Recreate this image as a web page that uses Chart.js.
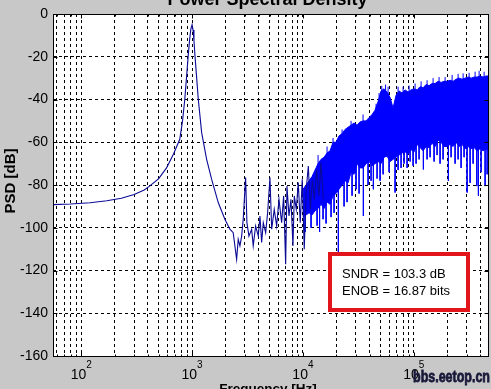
<!DOCTYPE html>
<html><head><meta charset="utf-8">
<script src="https://cdn.jsdelivr.net/npm/chart.js@4.4.0/dist/chart.umd.min.js"></script>
<style>html,body{margin:0;padding:0;background:#c8c8c8;overflow:hidden}canvas{display:block}</style>
</head><body>
<canvas id="c" width="491" height="389"></canvas>
<script>
// ---- data ----
// main trace: resonance peak and the sparse noise floor (Hz, dB)
const curveFreq = [55.6, 80, 120, 170, 230, 300, 370, 416, 500, 588,
  680, 774, 820, 859, 890, 922, 950, 975, 1000, 1020,
  1040, 1062, 1100, 1138, 1220, 1353, 1500, 1722, 1977, 2193,
  2350, 2523, 2608, 2702, 2800, 2893, 3041, 3124, 3258, 3445,
  3562, 3745, 3955, 4097, 4243, 4388, 4612, 4806, 5043, 5225,
  5512, 5796, 6079, 6430, 6700, 6985, 7180, 7485, 7800, 8130,
  8360, 8710, 9080, 9460, 9860, 10280, 10720, 11190, 11660, 12160,
  12680, 13310, 13960, 14560, 15280];
const curvePSD = [-89.2, -88.9, -88.3, -87.4, -86.2, -84.4, -82.3, -80.4, -77, -72,
  -65.5, -58.6, -50, -40, -30, -19.6, -12, -7, -5, -7.5,
  -12.5, -19.6, -30, -40, -55.5, -68, -77.3, -88.2, -96, -100.7,
  -102.3, -114.8, -105.4, -108.5, -103.9, -96, -76.5, -97.6, -103.9, -100.7,
  -108.5, -99.2, -103.9, -94.5, -106.9, -97.6, -102.3, -92.9, -76.5, -100.7,
  -91.4, -99.2, -86.7, -97.6, -85.1, -117.1, -80.5, -94.5, -86.7, -108.5,
  -85.1, -91.4, -78.9, -97.6, -77.3, -110.1, -82, -71.1, -91.4, -77.3,
  -86.7, -72.7, -85.1, -69.5, -86.7];

// dense noise band: upper and lower edge of the solid part
const bandFreq = [10030, 10675, 11363, 12093, 12871, 13700, 14580, 15518, 16512, 17575,
  18705, 19910, 21191, 22554, 24004, 25547, 27190, 28939, 30799, 32780,
  34888, 37130, 39519, 42061, 44764, 47643, 50708, 53966, 57440, 61131,
  65064, 69249, 73699, 78440, 83488, 88853, 94570, 100721, 107201, 114096,
  121428, 129240, 137558, 146401, 155822, 165849, 176509, 187868, 199941, 212803,
  226501, 241057, 256565, 273079, 290630, 309335, 329208, 350393, 372942, 396899,
  422450, 449644, 467700];
const bandHigh = [-82, -80, -78, -76, -73, -70, -68, -67, -65, -64,
  -60, -60, -57, -56, -54, -53, -52, -51, -52, -50.5,
  -50, -50, -48.5, -47, -45, -41, -36, -35, -36.5, -39,
  -44, -38, -36, -37, -35.5, -36.5, -35.5, -35, -35.5, -34,
  -34.5, -33, -33.5, -32.5, -32.5, -31.5, -32, -31.5, -31.5, -31,
  -31.5, -30.5, -30, -30.5, -30, -29.5, -30, -29.5, -29.5, -29,
  -29.5, -29, -29];
const bandLow = [-95, -94, -93, -94, -92, -91, -89, -91, -88, -89,
  -85, -84, -82, -80, -78, -79, -74, -75, -70, -72,
  -72, -70, -69, -71, -70, -69, -70, -67, -66.5, -69,
  -68, -67, -66, -65, -64.5, -65.5, -63.5, -64.5, -61, -62.5,
  -64, -62, -62.5, -60.5, -62, -59, -60, -62, -62, -61,
  -62, -60, -62, -61, -63, -62, -63, -62.5, -64, -63,
  -64, -63, -64];

// thin spikes leaving the band downwards (Hz, start dB, end dB)
const downSpikeFreq = [10457, 11846, 13421, 14137, 15196, 16180, 17947, 19103, 20889, 23524,
  25030, 27770, 30170, 32110, 35120, 38730, 41210, 43230, 46690, 49690,
  52880, 59920, 67870, 72230, 76880, 81830, 87080, 92690, 98650, 104990,
  111740, 122190, 131950, 140400, 152580, 162380, 172830, 184000, 205400, 217300,
  236100, 251300, 267500, 284700, 303000, 322500, 343200, 370700, 383200, 405300,
  440500, 459200];
const downSpikeFrom = [-92, -92, -88, -86, -85, -84, -80, -78, -75, -72,
  -70, -68, -66, -66, -65, -64, -64, -64, -62, -62,
  -60, -60, -60, -58, -58, -58, -58, -56, -56, -55,
  -54, -54, -54, -52, -52, -52, -52, -52, -52, -52,
  -52, -52, -52, -52, -52, -52, -52, -52, -52, -52,
  -52, -52];
const downSpikeTo = [-102, -100, -99, -102, -96, -98, -95, -93, -113, -90,
  -88, -85, -82, -84, -94.5, -80, -78, -82, -77, -78,
  -75, -74, -83.5, -73, -72, -70, -72, -69, -71, -70,
  -68, -72.7, -68, -67, -69, -66, -70, -68, -78.1, -67,
  -70, -68, -72, -67, -83.5, -79, -70, -80.5, -85, -74,
  -80.5, -75];
// thin spikes leaving the band upwards
const upSpikeFreq = [13700, 16512, 18705, 22554, 27190, 34888, 45730, 48660, 51470, 55700,
  58680, 72230, 80130, 90780, 102830, 116510, 131950, 149460, 169290, 191800,
  221900, 251300, 278900, 315900, 357900, 388900, 431400];
const upSpikeFrom = [-75, -70, -66, -62, -58, -56, -50, -48, -45, -45,
  -45, -45, -45, -45, -45, -42, -42, -42, -40, -40,
  -40, -40, -40, -40, -40, -40, -40];
const upSpikeTo = [-66, -62, -58, -54, -50, -47, -42, -37, -33.6, -33,
  -34, -34, -34, -33.5, -32.5, -31.5, -31, -30, -29.5, -29.5,
  -28.5, -28, -27.8, -27.5, -27, -26.6, -27];

const xTickValues = [100, 1000, 10000, 100000];
const xTickExponents = ['2', '3', '4', '5'];
const gridDecades = [10, 100, 1000, 10000, 100000];
const gridMultipliers = [1, 2, 3, 4, 5, 6, 7, 8, 9];
const titleText = 'Power Spectral Density';
const xLabel = 'Frequency [Hz]';
const yLabel = 'PSD [dB]';
const annotationLines = ['SNDR = 103.3 dB', 'ENOB = 16.87 bits'];
const watermark = 'bbs.eetop.cn';

// ---- chart ----
const FONT = "'Liberation Sans', Arial, sans-serif";
const X_MIN = 55.6, X_MAX = 467700;
const pts = (xs, ys) => xs.map((x, i) => ({x: x, y: ys[i]}));
const segs = (xs, a, b) => {
  const out = [];
  xs.forEach((x, i) => { out.push({x: x, y: a[i]}, {x: x, y: b[i]}, {x: x, y: null}); });
  return out;
};

const decor = {
  id: 'decor',
  beforeDraw(chart) {
    const ctx = chart.ctx, a = chart.chartArea;
    ctx.save();
    ctx.fillStyle = '#c8c8c8';
    ctx.fillRect(0, 0, chart.width, chart.height);
    ctx.fillStyle = '#ffffff';
    ctx.fillRect(a.left, a.top, a.right - a.left, a.bottom - a.top);
    ctx.restore();
  },
  afterDatasetsDraw(chart) {
    const ctx = chart.ctx, a = chart.chartArea;
    const xs = chart.scales.x, ys = chart.scales.y;
    ctx.save();
    ctx.strokeStyle = '#000';
    ctx.lineWidth = 1;
    const L = Math.round(a.left) + 0.5, R = Math.round(a.right) + 0.5;
    const T = Math.round(a.top) + 0.5, B = Math.round(a.bottom) + 0.5;
    ctx.strokeRect(L, T, R - L, B - T);
    ctx.beginPath();
    ys.ticks.forEach(t => {
      const y = Math.round(ys.getPixelForValue(t.value)) + 0.5;
      ctx.moveTo(L, y); ctx.lineTo(L + 4, y);
      ctx.moveTo(R, y); ctx.lineTo(R - 4, y);
    });
    xs.ticks.forEach(t => {
      const x = Math.round(xs.getPixelForValue(t.value)) + 0.5;
      const len = xTickValues.includes(t.value) ? 4 : 2;
      ctx.moveTo(x, B); ctx.lineTo(x, B - len);
      ctx.moveTo(x, T); ctx.lineTo(x, T + len);
    });
    ctx.stroke();
    ctx.restore();
  },
  afterDraw(chart) {
    const ctx = chart.ctx;
    const xs = chart.scales.x;
    ctx.save();
    ctx.fillStyle = '#000';
    ctx.font = 'bold 18px ' + FONT;
    ctx.textAlign = 'center';
    ctx.textBaseline = 'alphabetic';
    ctx.fillText(titleText, 267.5, 5);
    xTickValues.forEach((v, i) => {
      const px = xs.getPixelForValue(v);
      ctx.font = '14px ' + FONT;
      const wb = ctx.measureText('10').width;
      ctx.font = '10px ' + FONT;
      const we = ctx.measureText(xTickExponents[i]).width;
      const x0 = px - (wb + we) / 2;
      ctx.textAlign = 'left';
      ctx.font = '14px ' + FONT;
      ctx.fillText('10', x0, 378.5);
      ctx.font = '10px ' + FONT;
      ctx.fillText(xTickExponents[i], x0 + wb, 367.5);
    });
    ctx.font = 'bold 13.5px ' + FONT;
    ctx.textAlign = 'center';
    ctx.fillText(xLabel, 268, 393);
    ctx.save();
    ctx.translate(11, 181);
    ctx.rotate(-Math.PI / 2);
    ctx.font = 'bold 15px ' + FONT;
    ctx.textBaseline = 'middle';
    ctx.fillText(yLabel, 0, 0);
    ctx.restore();
    // annotation box
    ctx.fillStyle = '#ffffff';
    ctx.fillRect(328, 252, 142, 60);
    ctx.strokeStyle = '#e2141c';
    ctx.lineWidth = 4;
    ctx.strokeRect(330, 254, 138, 56);
    ctx.fillStyle = '#000';
    ctx.font = '13px ' + FONT;
    ctx.textAlign = 'left';
    ctx.textBaseline = 'alphabetic';
    ctx.fillText(annotationLines[0], 342, 277.5);
    ctx.fillText(annotationLines[1], 342, 294.5);
    // watermark
    ctx.font = 'bold 17px ' + FONT;
    const ww = ctx.measureText(watermark).width;
    ctx.save();
    ctx.translate(413, 382);
    ctx.scale(77 / ww, 1);
    ctx.fillStyle = '#18183a';
    ctx.strokeStyle = '#18183a';
    ctx.lineWidth = 0.8;
    ctx.fillText(watermark, 0, 0);
    ctx.strokeText(watermark, 0, 0);
    ctx.restore();
    ctx.restore();
  }
};

new Chart(document.getElementById('c'), {
  type: 'line',
  data: {
    datasets: [
      {label: 'psd', data: pts(curveFreq, curvePSD), borderColor: '#0a0a96', borderWidth: 1.1, fill: false},
      {label: 'down spikes', data: segs(downSpikeFreq, downSpikeFrom, downSpikeTo), borderColor: '#0000ff', borderWidth: 1, fill: false, spanGaps: false},
      {label: 'up spikes', data: segs(upSpikeFreq, upSpikeFrom, upSpikeTo), borderColor: '#0000ff', borderWidth: 1, fill: false, spanGaps: false},
      {label: 'band high', data: pts(bandFreq, bandHigh), borderColor: '#0000ff', backgroundColor: '#0000ff', borderWidth: 1, fill: '+1'},
      {label: 'band low', data: pts(bandFreq, bandLow), borderColor: '#0000ff', borderWidth: 1, fill: false}
    ]
  },
  options: {
    responsive: false,
    animation: false,
    devicePixelRatio: 1,
    layout: {padding: {left: 0, right: 3, top: 14, bottom: 0}},
    elements: {point: {radius: 0}, line: {tension: 0}},
    plugins: {legend: {display: false}, tooltip: {enabled: false}, title: {display: false}},
    scales: {
      x: {
        type: 'logarithmic', min: X_MIN, max: X_MAX,
        ticks: {display: false, autoSkip: false},
        grid: {color: '#000', lineWidth: 1, drawTicks: false},
        border: {display: false, dash: [3, 3]},
        afterBuildTicks(s) {
          const t = [];
          gridDecades.forEach(d => gridMultipliers.forEach(m => {
            const v = d * m;
            if (v > X_MIN && v < X_MAX) t.push({value: v});
          }));
          s.ticks = t;
        },
        afterFit(s) { s.height = 33; s.paddingLeft = 0; s.paddingRight = 0; }
      },
      y: {
        type: 'linear', min: -160, max: 0,
        ticks: {stepSize: 20, color: '#000', padding: 5, font: {size: 14, family: FONT}},
        grid: {color: '#000', lineWidth: 1, drawTicks: false},
        border: {display: false, dash: [3, 3]},
        afterFit(s) { s.width = 53; s.paddingTop = 0; s.paddingBottom = 0; }
      }
    }
  },
  plugins: [decor]
});
</script>
</body></html>
